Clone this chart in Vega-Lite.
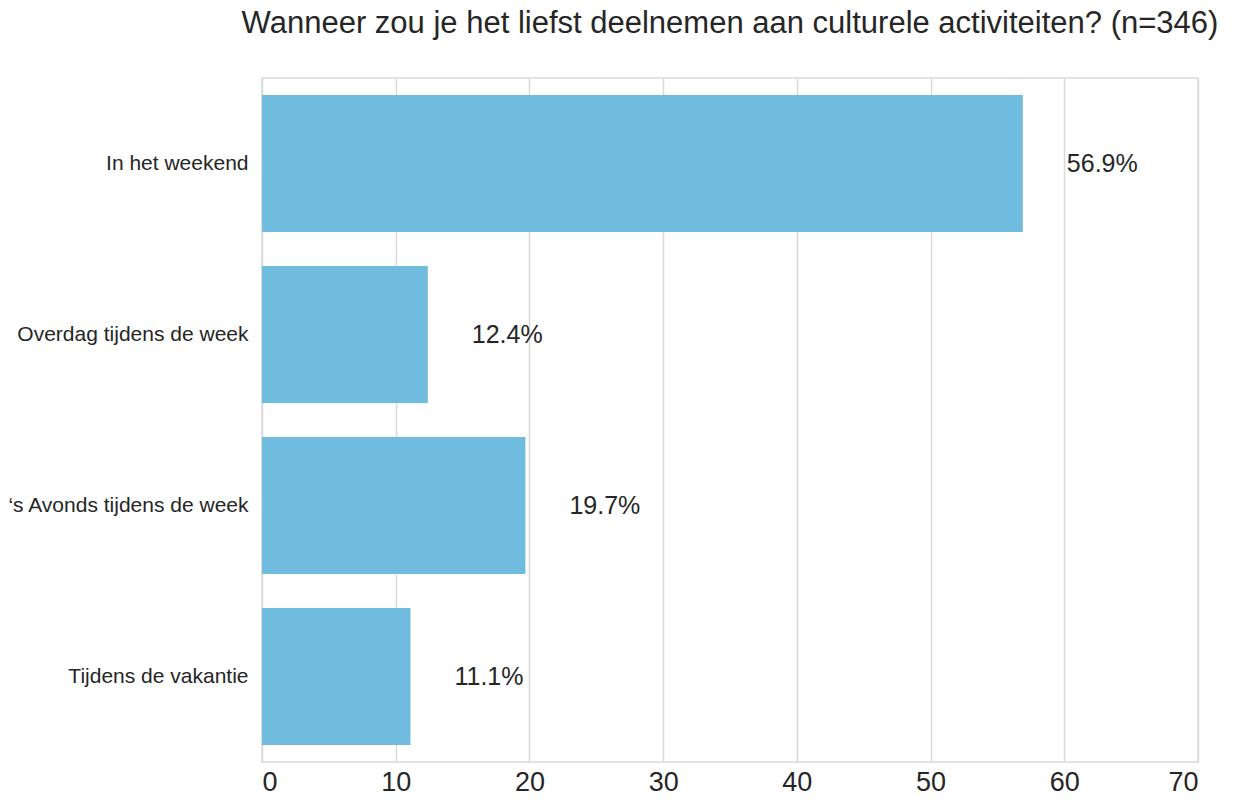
{
  "$schema": "https://vega.github.io/schema/vega-lite/v6.json",
  "autosize": "none",
  "width": 936,
  "height": 684,
  "padding": {"left": 262, "top": 78, "right": 39, "bottom": 38},
  "background": "white",
  "title": {
    "text": "Wanneer zou je het liefst deelnemen aan culturele activiteiten? (n=346)",
    "fontSize": 31,
    "font": "Liberation Sans",
    "fontWeight": "normal",
    "color": "#262626",
    "anchor": "middle",
    "offset": 38
  },
  "config": {
    "view": {"stroke": "#d9d9d9", "strokeWidth": 1.5},
    "font": "Liberation Sans"
  },
  "data": {
    "values": [
      {"categorie": "In het weekend", "percentage": 56.9, "label": "56.9%"},
      {"categorie": "Overdag tijdens de week", "percentage": 12.4, "label": "12.4%"},
      {"categorie": "‘s Avonds tijdens de week", "percentage": 19.7, "label": "19.7%"},
      {"categorie": "Tijdens de vakantie", "percentage": 11.1, "label": "11.1%"}
    ]
  },
  "encoding": {
    "y": {
      "field": "categorie",
      "type": "nominal",
      "sort": null,
      "scale": {"paddingInner": 0.2, "paddingOuter": 0.1},
      "axis": {
        "title": null,
        "domain": false,
        "ticks": false,
        "labelFontSize": 21,
        "labelLimit": 400,
        "labelColor": "#262626",
        "labelPadding": 14,
        "grid": false
      }
    },
    "x": {
      "field": "percentage",
      "type": "quantitative",
      "scale": {"domain": [0, 70], "nice": false},
      "axis": {
        "title": null,
        "values": [0, 10, 20, 30, 40, 50, 60, 70],
        "domain": false,
        "ticks": false,
        "labelFontSize": 27,
        "labelColor": "#262626",
        "labelPadding": 7,
        "grid": true,
        "gridColor": "#d9d9d9",
        "gridWidth": 1.5
      }
    }
  },
  "layer": [
    {"mark": {"type": "bar", "color": "#6fbcdf"}},
    {
      "mark": {"type": "text", "align": "left", "baseline": "middle", "dx": 44, "fontSize": 25, "color": "#262626"},
      "encoding": {
        "text": {"field": "label", "type": "nominal"}
      }
    }
  ]
}
